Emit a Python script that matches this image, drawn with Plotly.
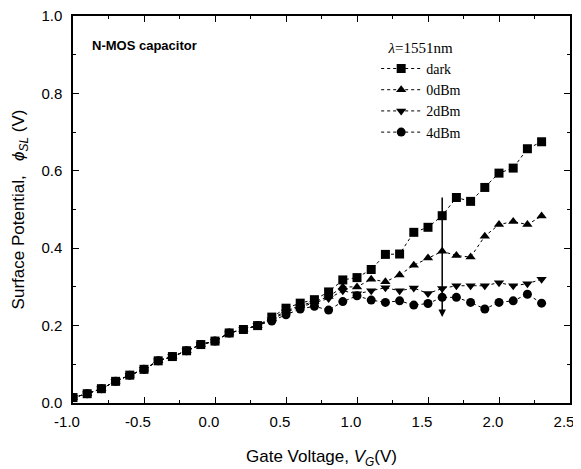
import plotly.graph_objects as go

gate_voltage = [round(-1.0 + 0.1 * i, 1) for i in range(34)]

base = [0.014, 0.024, 0.037, 0.056, 0.072, 0.087, 0.109, 0.120, 0.135, 0.151,
        0.160, 0.181, 0.190, 0.200]

dark = base + [0.222, 0.245, 0.258, 0.267, 0.287, 0.318, 0.324, 0.345, 0.384, 0.385,
               0.441, 0.454, 0.484, 0.531, 0.521, 0.557, 0.594, 0.607, 0.657, 0.675]
dbm0 = base + [0.218, 0.238, 0.252, 0.262, 0.275, 0.300, 0.300, 0.320, 0.313, 0.331,
               0.356, 0.375, 0.392, 0.381, 0.377, 0.431, 0.461, 0.469, 0.461, 0.483]
dbm2 = base + [0.215, 0.235, 0.248, 0.258, 0.270, 0.290, 0.282, 0.290, 0.298, 0.290,
               0.297, 0.283, 0.296, 0.303, 0.303, 0.303, 0.311, 0.303, 0.308, 0.320]
dbm4 = base + [0.212, 0.228, 0.243, 0.250, 0.240, 0.262, 0.277, 0.266, 0.260, 0.264,
               0.253, 0.257, 0.273, 0.273, 0.260, 0.243, 0.260, 0.264, 0.281, 0.258]

series_names = ["dark", "0dBm", "2dBm", "4dBm"]
series_values = [dark, dbm0, dbm2, dbm4]
series_symbols = ["square", "triangle-up", "triangle-down", "circle"]

x_tick_vals = [-1.0, -0.5, 0.0, 0.5, 1.0, 1.5, 2.0, 2.5]
x_tick_text = ["-1.0", "-0.5", "0.0", "0.5", "1.0", "1.5", "2.0", "2.5"]
y_tick_vals = [0.0, 0.2, 0.4, 0.6, 0.8, 1.0]
y_tick_text = ["0.0", "0.2", "0.4", "0.6", "0.8", "1.0"]

arrow_x = 1.6
arrow_top = 0.535
arrow_bottom = 0.222

fig = go.Figure()
for name, vals, sym in zip(series_names, series_values, series_symbols):
    fig.add_trace(go.Scatter(
        x=gate_voltage, y=vals, name=name, mode="lines+markers",
        line=dict(color="black", width=1, dash="dot"),
        marker=dict(symbol=sym, size=9, color="black"),
    ))

fig.add_annotation(x=arrow_x, y=arrow_bottom, ax=arrow_x, ay=arrow_top,
                   xref="x", yref="y", axref="x", ayref="y",
                   showarrow=True, arrowhead=2, arrowsize=1, arrowwidth=1.5,
                   arrowcolor="black", text="")

fig.add_annotation(x=0.034, y=0.925, xref="paper", yref="paper",
                   xanchor="left", yanchor="middle", showarrow=False,
                   text="<b>N-MOS capacitor</b>",
                   font=dict(family="Liberation Sans, Arial", size=13, color="black"))

axis_common = dict(
    showline=True, linecolor="black", linewidth=1.5, mirror="allticks",
    ticks="inside", ticklen=6, tickwidth=1, tickcolor="black",
    showgrid=False, zeroline=False, automargin=False,
    ticklabeloverflow="allow",
    tickfont=dict(family="Liberation Sans, Arial", size=15, color="black"),
)

fig.update_xaxes(range=[-1.0, 2.5], tickmode="array",
                 tickvals=x_tick_vals, ticktext=x_tick_text,
                 ticklabelstandoff=4, ticklabelshift=-6,
                 minor=dict(ticks="inside", ticklen=3, dtick=0.25, tick0=-1.0, tickcolor="black"),
                 title=dict(text="Gate Voltage, <i>V</i><sub><i>G</i></sub>(V)",
                            font=dict(family="Liberation Sans, Arial", size=17, color="black"),
                            standoff=22),
                 **axis_common)
fig.update_yaxes(range=[0.0, 1.0], tickmode="array",
                 tickvals=y_tick_vals, ticktext=y_tick_text,
                 ticklabelstandoff=6,
                 minor=dict(ticks="inside", ticklen=3, dtick=0.1, tick0=0, tickcolor="black"),
                 title=dict(text="Surface Potential,   <i>ϕ</i><sub><i>SL</i></sub> (V)",
                            font=dict(family="Liberation Sans, Arial", size=17, color="black"),
                            standoff=12),
                 **axis_common)

# page body has an 8px default margin; figure is sized/offset to compensate
fig.update_layout(
    width=573, height=461,
    margin=dict(l=65, r=11, t=8, b=66),
    plot_bgcolor="white", paper_bgcolor="white",
    legend=dict(x=0.61, y=0.955, xanchor="left", yanchor="top",
                bgcolor="rgba(0,0,0,0)", itemwidth=40, tracegroupgap=0,
                title=dict(text="<i>λ</i>=1551nm", side="top center",
                           font=dict(family="Liberation Serif, Times New Roman", size=15, color="black")),
                font=dict(family="Liberation Serif, Times New Roman", size=14, color="black")),
)

fig.write_html("out.html")
